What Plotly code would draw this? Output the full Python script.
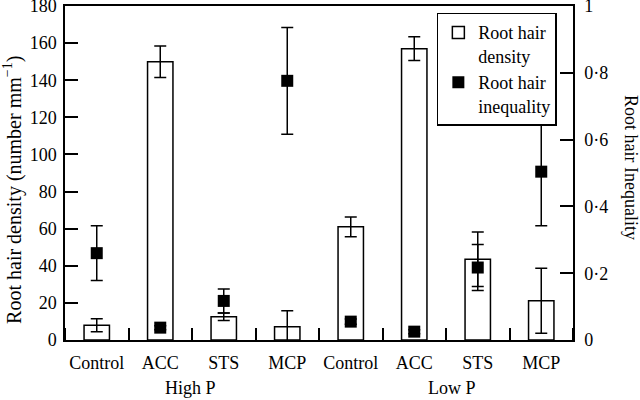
import plotly.graph_objects as go

categories = ["Control", "ACC", "STS", "MCP", "Control", "ACC", "STS", "MCP"]
groups = ["High P", "Low P"]
density = [8, 150, 12.5, 7.2, 61, 157, 43.5, 21.2]
density_err = [3.5, 8.5, 2.0, 8.6, 5.3, 6.4, 14.7, 17.5]
inequality = [0.26, 0.037, 0.117, 0.776, 0.055, 0.025, 0.217, 0.504]
inequality_err = [0.082, 0.006, 0.036, 0.16, 0.008, 0.006, 0.069, 0.162]
y1_ticks = [0, 20, 40, 60, 80, 100, 120, 140, 160, 180]
y2_ticks = [0, 0.2, 0.4, 0.6, 0.8, 1]
y2_ticktext = ["0", "0·2", "0·4", "0·6", "0·8", "1"]

xpos = list(range(len(categories)))
FONT = "Liberation Serif"
FS = 18

fig = go.Figure()
fig.add_trace(go.Bar(
    x=xpos, y=density, width=0.4, name="Root hair<br>density",
    marker=dict(color="white", line=dict(color="black", width=1.5)),
    error_y=dict(type="data", array=density_err, color="black", thickness=1.5, width=6),
))
fig.add_trace(go.Scatter(
    x=xpos, y=inequality, yaxis="y2", mode="markers", name="Root hair<br>inequality",
    marker=dict(symbol="square", size=12, color="black"),
    error_y=dict(type="data", array=inequality_err, color="black", thickness=1.5, width=6),
))

fig.update_layout(
    width=640, height=400,
    margin=dict(l=65, r=67, t=6, b=60, autoexpand=False),
    paper_bgcolor="white", plot_bgcolor="white",
    font=dict(family=FONT, size=FS, color="black"),
    showlegend=True,
    legend=dict(x=0.732, y=0.98, xanchor="left", yanchor="top",
                bordercolor="black", borderwidth=1.5, bgcolor="white",
                font=dict(family=FONT, size=FS), valign="top", tracegroupgap=0,
                itemwidth=30),
    xaxis=dict(range=[-0.5, 7.5], tickmode="array", tickvals=xpos, ticktext=categories,
               ticks="", showline=True, linecolor="black", linewidth=1.5, mirror=True,
               showgrid=False, zeroline=False, ticklabelstandoff=6, automargin=False,
               minor=dict(tickmode="linear", tick0=0.5, dtick=1, ticks="inside",
                          ticklen=12, tickwidth=1.5, tickcolor="black", showgrid=False)),
    yaxis=dict(range=[0, 180], tickmode="array", tickvals=y1_ticks, ticks="inside",
               ticklen=13, tickwidth=1.5, tickcolor="black", showline=True,
               linecolor="black", linewidth=1.5, showgrid=False, zeroline=False,
               ticklabelstandoff=3, automargin=False, ticklabeloverflow="allow"),
    yaxis2=dict(range=[0, 1], overlaying="y", side="right", tickmode="array",
                tickvals=y2_ticks, ticktext=y2_ticktext, ticks="inside", ticklen=13,
                tickwidth=1.5, tickcolor="black", showline=True, linecolor="black",
                linewidth=1.5, showgrid=False, zeroline=False, ticklabelstandoff=6,
                automargin=False, ticklabeloverflow="allow"),
    bargap=0.6,
)

annotations = [
    dict(text="Root hair density (number mm<sup>−1</sup>)", xref="paper", yref="paper",
         x=-0.102, y=0.45, xanchor="center", yanchor="middle", textangle=-90,
         showarrow=False, font=dict(family=FONT, size=20)),
    dict(text="Root hair Inequality", xref="paper", yref="paper",
         x=1.114, y=0.515, xanchor="center", yanchor="middle", textangle=90,
         showarrow=False, font=dict(family=FONT, size=FS)),
    dict(text=groups[0], xref="x", yref="paper", x=1.47, y=-0.144,
         xanchor="center", yanchor="middle", showarrow=False, font=dict(family=FONT, size=FS)),
    dict(text=groups[1], xref="x", yref="paper", x=5.6, y=-0.144,
         xanchor="center", yanchor="middle", showarrow=False, font=dict(family=FONT, size=FS)),
]
fig.update_layout(annotations=annotations)

fig.write_html("out.html", config={"displayModeBar": False},
               post_script="document.body.style.margin='0';document.body.style.overflow='hidden';")
